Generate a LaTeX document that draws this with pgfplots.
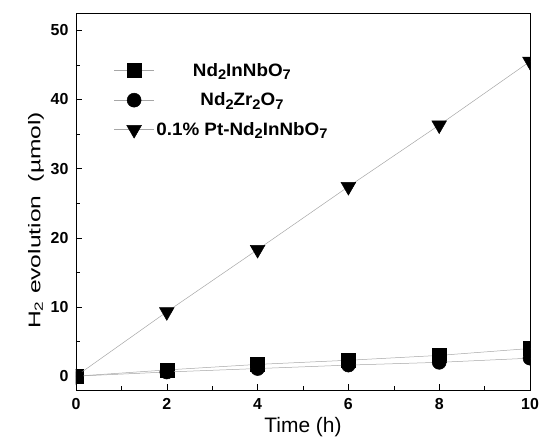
\documentclass[border=0pt]{standalone}
\usepackage{fontspec}
\setmainfont{Liberation Sans}
\usepackage{pgfplots}
\pgfplotsset{compat=1.18}
\newcommand{\sub}[1]{\raisebox{-0.35ex}{\fontsize{14}{14}\selectfont #1}}
\newcommand{\wide}[1]{\scalebox{1.05}[1]{#1}}

\begin{document}
\begin{tikzpicture}
\useasboundingbox (-76bp,-48bp) rectangle (463bp,390bp);
\begin{axis}[
    at={(0,0)}, anchor=south west,
    scale only axis, width=454bp, height=377bp,
    xmin=0, xmax=10, ymin=-2, ymax=52.5,
    xtick={0,2,...,10}, ytick={0,10,...,50},
    minor x tick num=1, minor y tick num=1,
    tick align=inside, xtick pos=bottom, ytick pos=left,
    major tick length=6bp, minor tick length=4bp,
    axis line style={line width=0.9pt},
    every tick/.style={black, line width=0.6pt},
    ticklabel style={font=\fontsize{16}{18}\selectfont\bfseries},
    xticklabel style={yshift=-5bp},
    yticklabel style={xshift=-4bp},
    /pgf/number format/assume math mode=true,
    xlabel={Time (h)},
    ylabel={\scalebox{1.45}[1]{H\textsubscript{2} evolution\ \ (µmol)}},
    xlabel style={font=\fontsize{21}{23}\selectfont, yshift=-1bp},
    ylabel style={font=\fontsize{17}{19}\selectfont, at={(ticklabel cs:0.45)}},
    clip marker paths=true,
    legend cell align=center,
    legend style={draw=none, fill=none, inner sep=0pt,
        at={(rel axis cs:0.083,0.872)}, anchor=north west,
        font=\fontsize{18}{19}\selectfont\bfseries,
        row sep=11bp},
    legend image code/.code={%
        \draw[mark repeat=2, mark phase=2, #1]
            plot coordinates {(0bp,0bp) (20bp,0bp) (40bp,0bp)};},
    every axis plot/.append style={gray!70, line width=0.5pt},
]
% Nd2InNbO7
\addplot[mark=square*, mark size=7bp,
    mark options={solid, draw=black, fill=black}] coordinates {
    (0,0) (2,0.9) (4,1.7) (6,2.3) (8,3.0) (10,4.0)
};
\addlegendentry{\wide{Nd\sub{2}InNbO\sub{7}}}
% Nd2Zr2O7
\addplot[mark=*, mark size=7bp,
    mark options={solid, draw=black, fill=black}] coordinates {
    (0,0) (2,0.6) (4,1.1) (6,1.6) (8,2.0) (10,2.6)
};
\addlegendentry{\wide{Nd\sub{2}Zr\sub{2}O\sub{7}}}
% 0.1% Pt-Nd2InNbO7
\addplot[mark=triangle*, mark size=8.5bp,
    mark options={solid, draw=black, fill=black, rotate=180}] coordinates {
    (0,0) (2,9.3) (4,18.3) (6,27.4) (8,36.3) (10,45.5)
};
\addlegendentry{\wide{0.1\% Pt-Nd\sub{2}InNbO\sub{7}}}
\end{axis}
\end{tikzpicture}
\end{document}
